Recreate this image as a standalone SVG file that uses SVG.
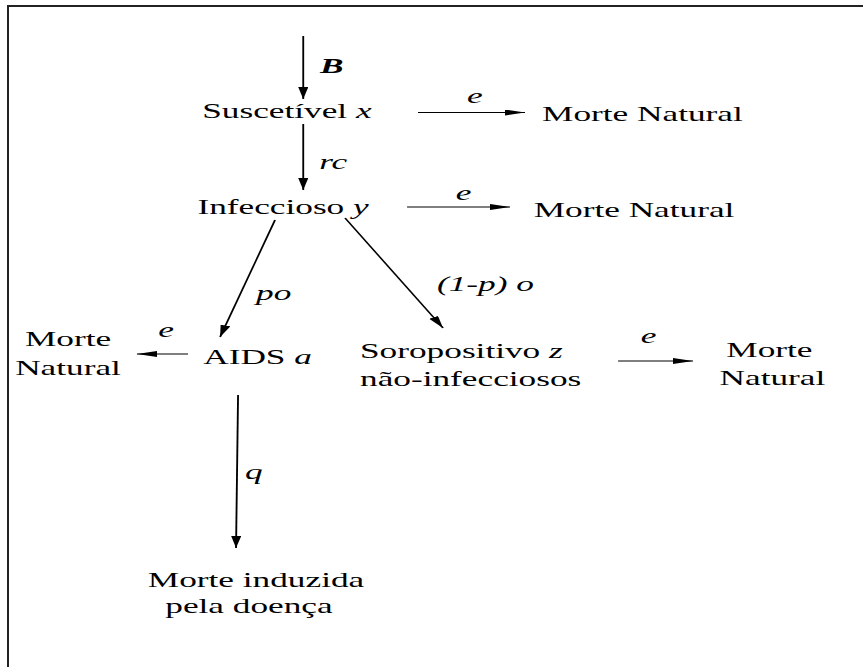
<svg xmlns="http://www.w3.org/2000/svg" width="863" height="667" viewBox="0 0 863 667">
  <style>
    .t { font-family: 'Liberation Serif', serif; font-size: 21px; fill: #000; }
    .mid { text-anchor: middle; }
    .var { font-style: italic; }
    .conn line { stroke: #000; stroke-width: 1.1; marker-end: url(#head); }
  </style>
  <defs>
    <marker id="head" markerUnits="userSpaceOnUse" markerWidth="13" markerHeight="7" refX="12" refY="3" orient="auto">
      <path d="M0,0 L12,3 L0,6 z" fill="#000"/>
    </marker>
  </defs>
  <rect width="863" height="667" fill="#fff"/>
  <!-- frame -->
  <path d="M8,667 V6 H863" fill="none" stroke="#222" stroke-width="2"/>

  <!-- whole drawing is stretched horizontally -->
  <g transform="scale(1.68,1)" font-family="Liberation Serif, serif">
    <g class="conn" id="connectors">
      <line x1="180.5" y1="36" x2="180.5" y2="99"/>
      <line x1="180.5" y1="124" x2="180.5" y2="190"/>
      <line x1="248.8" y1="112.5" x2="312.5" y2="112.5"/>
      <line x1="242.3" y1="207" x2="303.6" y2="207"/>
      <line x1="163.7" y1="220" x2="131" y2="337"/>
      <line x1="205.4" y1="218" x2="263.7" y2="328"/>
      <line x1="111.9" y1="354" x2="81.5" y2="354"/>
      <line x1="367.9" y1="361" x2="412.5" y2="361"/>
      <line x1="141.7" y1="395" x2="140.5" y2="548"/>
      <text class="t var" x="190.5" y="73" font-weight="bold">B</text>
      <text class="t var" x="190" y="169">rc</text>
      <text class="t var mid" x="282.7" y="103">e</text>
      <text class="t var mid" x="275.9" y="200">e</text>
      <text class="t var" x="152.4" y="300">po</text>
      <text class="t var" x="260.1" y="291">(1-p) o</text>
      <text class="t var mid" x="98.8" y="337">e</text>
      <text class="t var mid" x="386" y="343">e</text>
      <text class="t var" x="145.8" y="479">q</text>
    </g>

    <g id="suscetivel">
      <text class="t mid" x="170.8" y="118">Suscetível <tspan class="var">x</tspan></text>
    </g>
    <g id="infeccioso">
      <text class="t mid" x="168.5" y="214">Infeccioso <tspan class="var">y</tspan></text>
    </g>
    <g id="morte-natural-1">
      <text class="t mid" x="382.4" y="121">Morte Natural</text>
    </g>
    <g id="morte-natural-2">
      <text class="t mid" x="377.4" y="217">Morte Natural</text>
    </g>
    <g id="morte-natural-3">
      <text class="t mid" x="40.5" y="346">Morte</text>
      <text class="t mid" x="40.5" y="375">Natural</text>
    </g>
    <g id="aids">
      <text class="t mid" x="153.3" y="364">AIDS <tspan class="var">a</tspan></text>
    </g>
    <g id="soropositivo">
      <text class="t" x="214.3" y="358">Soropositivo <tspan class="var">z</tspan></text>
      <text class="t" x="214.3" y="386">não-infecciosos</text>
    </g>
    <g id="morte-natural-4">
      <text class="t mid" x="458" y="357">Morte</text>
      <text class="t mid" x="459.8" y="385">Natural</text>
    </g>
    <g id="morte-doenca">
      <text class="t mid" x="152.4" y="587">Morte induzida</text>
      <text class="t mid" x="148.2" y="613">pela doença</text>
    </g>
  </g>
</svg>
